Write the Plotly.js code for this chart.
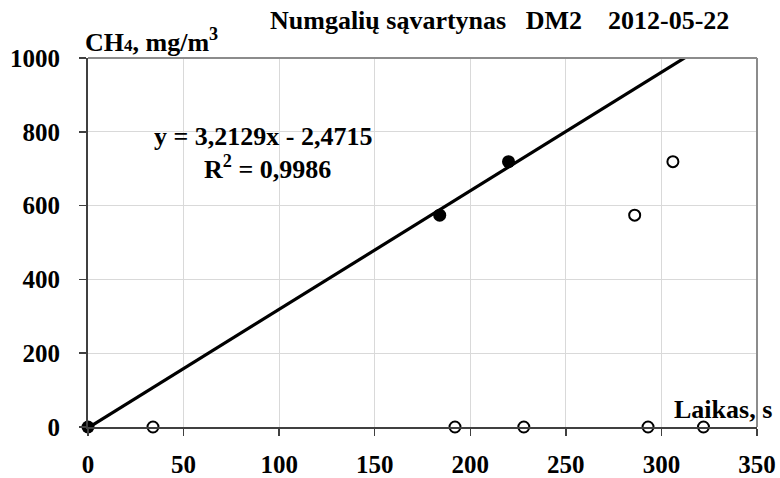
<!DOCTYPE html>
<html>
<head>
<meta charset="utf-8">
<script src="https://cdn.plot.ly/plotly-3.0.1.min.js"></script>
<style>html,body{margin:0;padding:0;background:#fff;}#chart{width:780px;height:478px;}</style>
</head>
<body>
<div id="chart"></div>
<script>
// Data
const fitX = [0, 184, 220];          // points used for the trend line (filled)
const fitY = [0, 574, 719];
const otherX = [34, 192, 228, 286, 293, 306, 322];   // open circles
const otherY = [0, 0, 0, 574, 0, 719, 0];
const slope = 3.2129;
const intercept = -2.4715;
const rSquared = 0.9986;
const xTicks = [0, 50, 100, 150, 200, 250, 300, 350];
const yTicks = [0, 200, 400, 600, 800, 1000];
const lineX = [0, 350];

const FONT = "'Liberation Serif', 'Times New Roman', serif";
const fmt = v => String(v).replace('.', ',');

const traces = [
  {
    x: lineX, y: lineX.map(v => slope * v + intercept),
    mode: 'lines', line: {color: '#000', width: 3.2}, hoverinfo: 'skip', showlegend: false
  },
  {
    x: otherX, y: otherY, mode: 'markers', cliponaxis: false,
    marker: {symbol: 'circle-open', size: 11, color: '#000', line: {width: 2, color: '#000'}},
    showlegend: false
  },
  {
    x: fitX, y: fitY, mode: 'markers', cliponaxis: false,
    marker: {symbol: 'circle', size: 13, color: '#000'},
    showlegend: false
  }
];

const layout = {
  width: 780, height: 478,
  margin: {l: 88, r: 23, t: 58, b: 51},
  paper_bgcolor: '#fff', plot_bgcolor: '#fff',
  font: {family: FONT, color: '#000', size: 26},
  showlegend: false,
  xaxis: {
    range: [0, 350], tickvals: xTicks, ticktext: xTicks.map(String),
    showgrid: true, gridcolor: '#d9d9d9', gridwidth: 1,
    zeroline: false, showline: true, linecolor: '#404040', linewidth: 2,
    ticks: 'outside', ticklen: 7, tickwidth: 1.5, tickcolor: '#404040',
    tickfont: {family: FONT, size: 25, color: '#000', weight: 'bold'},
    ticklabelstandoff: 7, fixedrange: true
  },
  yaxis: {
    range: [0, 1000], tickvals: yTicks, ticktext: yTicks.map(String),
    showgrid: true, gridcolor: '#d9d9d9', gridwidth: 1,
    zeroline: false, showline: true, linecolor: '#404040', linewidth: 2,
    ticks: 'outside', ticklen: 7, tickwidth: 1.5, tickcolor: '#404040',
    tickfont: {family: FONT, size: 25, color: '#000', weight: 'bold'},
    ticklabelstandoff: 14, fixedrange: true
  },
  shapes: [
    {type: 'line', xref: 'paper', yref: 'paper', x0: 0, x1: 1, y0: 1, y1: 1, line: {color: '#8c8c8c', width: 2}},
    {type: 'line', xref: 'paper', yref: 'paper', x0: 1, x1: 1, y0: 0, y1: 1, line: {color: '#8c8c8c', width: 2}}
  ],
  annotations: [
    {text: '<b>Numgalių sąvartynas   DM2    2012-05-22</b>', xref: 'paper', yref: 'paper',
     x: (499 - 88) / 669, y: 1, yshift: 38, xanchor: 'center', yanchor: 'middle', showarrow: false,
     font: {family: FONT, size: 26, color: '#000'}},
    {text: '<b>CH<span style="font-size:17px">4</span>, mg/m<sup>3</sup></b>', xref: 'paper', yref: 'paper',
     x: (83 - 88) / 669, y: 1, yshift: -1, xanchor: 'left', yanchor: 'bottom', showarrow: false,
     font: {family: FONT, size: 26, color: '#000'}},
    {text: '<b>Laikas, s</b>', xref: 'paper', yref: 'paper',
     x: 1, xshift: 17, y: 0, yshift: 1, xanchor: 'right', yanchor: 'bottom', showarrow: false,
     font: {family: FONT, size: 26, color: '#000'}},
    {text: '<b>y = ' + fmt(slope) + 'x - ' + fmt(-intercept) + '</b>', xref: 'paper', yref: 'paper',
     x: (263 - 88) / 669, y: (427 - 136) / 369, xanchor: 'center', yanchor: 'middle', showarrow: false,
     font: {family: FONT, size: 26, color: '#000'}},
    {text: '<b>R<sup>2</sup> = ' + fmt(rSquared) + '</b>', xref: 'paper', yref: 'paper',
     x: (267 - 88) / 669, y: (427 - 167) / 369, xanchor: 'center', yanchor: 'middle', showarrow: false,
     font: {family: FONT, size: 26, color: '#000'}}
  ]
};

Plotly.newPlot('chart', traces, layout, {displayModeBar: false, staticPlot: true});
</script>
</body>
</html>
